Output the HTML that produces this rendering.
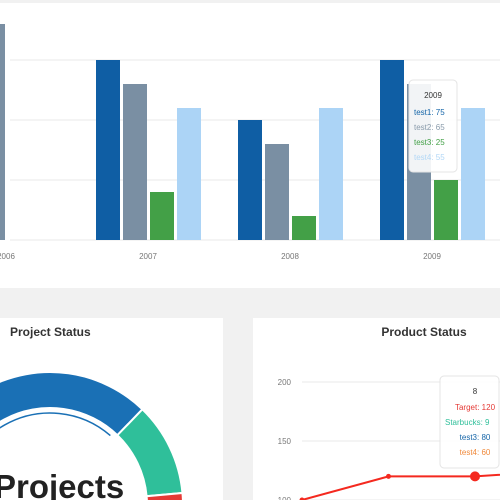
<!DOCTYPE html>
<html><head><meta charset="utf-8"><style>
html,body{margin:0;padding:0;width:500px;height:500px;overflow:hidden;background:#f1f1f1;font-family:"Liberation Sans",sans-serif}
</style></head><body>
<svg width="500" height="500" viewBox="0 0 500 500" xmlns="http://www.w3.org/2000/svg">
<rect x="0" y="3" width="500" height="285" fill="#fff"/>
<g id="bars"></g>
<rect x="0" y="318" width="223" height="182" fill="#fff"/>
<rect x="253" y="318" width="247" height="182" fill="#fff"/>
<text x="10" y="336" font-size="12" font-weight="bold" fill="#333">Project Status</text>
<text x="424" y="336" font-size="12" font-weight="bold" fill="#333" text-anchor="middle">Product Status</text>
<g id="donut"></g>
<text x="-6" y="498" font-size="33" font-weight="bold" fill="#222">Projects</text>
<g id="line"></g>
<g>
<rect x="409" y="80" width="48" height="92" rx="4" fill="#fff" fill-opacity="0.9" stroke="#e4e4e4"/>
<text x="433" y="98" font-size="8" text-anchor="middle" fill="#333">2009</text>
<text x="414" y="115" font-size="8" fill="#1565a8">test1: 75</text>
<text x="414" y="130" font-size="8" fill="#8a9bab">test2: 65</text>
<text x="414" y="145" font-size="8" fill="#43a047">test3: 25</text>
<text x="414" y="160" font-size="8" fill="#b3d8f7">test4: 55</text>
</g>
<g>
<rect x="440" y="376" width="59" height="92" rx="4" fill="#fff" fill-opacity="0.92" stroke="#e4e4e4"/>
<text x="475" y="394" font-size="8" text-anchor="middle" fill="#333">8</text>
<text x="475" y="410" font-size="8" text-anchor="middle" fill="#e53935">Target: 120</text>
<text x="445" y="425" font-size="8" fill="#2fbf9a">Starbucks: 9</text>
<text x="475" y="440" font-size="8" text-anchor="middle" fill="#1565a8">test3: 80</text>
<text x="475" y="455" font-size="8" text-anchor="middle" fill="#f08a3c">test4: 60</text>
</g>
</svg>
<script>
const NS="http://www.w3.org/2000/svg";
const years=["2006","2007","2008","2009"];
const test1=[0,75,50,75];
const test2=[90,65,40,65];
const test3=[0,20,10,25];
const test4=[0,55,55,55];
const barTicks=[0,25,50,75];
const donutLabels=["Blue","Green","Red"];
const donutValues=[60,17,23];
const lineCats=["6","7","8","9"];
const targetVals=[100,120,120,125];
const lineTicks=[100,150,200];

function mk(tag,attrs,parent){const e=document.createElementNS(NS,tag);for(const k in attrs)e.setAttribute(k,attrs[k]);parent.appendChild(e);return e;}

// bar chart
const bg=document.getElementById('bars');
const yB=v=>240-v*2.4;
const xG=i=>6+i*142;
barTicks.forEach(t=>{const l=mk('line',{x1:10,x2:500,y1:yB(t),y2:yB(t),stroke:'#e8e8e8','stroke-width':1},bg);

});
const series=[[test1,'#0f5ea4'],[test2,'#7a8fa3'],[test3,'#43a047'],[test4,'#acd4f6']];
years.forEach((y,i)=>{
 series.forEach((s,j)=>{const v=s[0][i];if(!v)return;
  const x=xG(i)-52+j*27;
  const r=mk('rect',{x:i===0?-5:x,y:yB(v),width:i===0?10:24,height:240-yB(v),fill:s[1]},bg);
  
  });
 const t=mk('text',{x:xG(i),y:259,'font-size':8,fill:'#777','text-anchor':'middle'},bg);t.textContent=y;
 
 
});

// donut
const dg=document.getElementById('donut');
const cx=50,cy=505,R=133,r=97;
const colors=['#1a70b5','#2fbf9a','#e53935'];
const degPer=2.4;
let ang=-100;
const p=(a,rr)=>[cx+rr*Math.sin(a*Math.PI/180),cy-rr*Math.cos(a*Math.PI/180)];
donutValues.forEach((v,i)=>{
 const a0=ang, a1=ang+v*degPer;ang=a1;
 const [x0,y0]=p(a0,R),[x1,y1]=p(a1,R),[x2,y2]=p(a1,r),[x3,y3]=p(a0,r);
 const lg=(a1-a0)>180?1:0;
 const path=mk('path',{d:`M${x0},${y0}A${R},${R} 0 ${lg} 1 ${x1},${y1}L${x2},${y2}A${r},${r} 0 ${lg} 0 ${x3},${y3}Z`,fill:colors[i],stroke:'#fff','stroke-width':2},dg);
 
 
 if(i===0){const [a,b]=p(a0,r-5),[c,d]=p(a1-3,r-5);
  const arc=mk('path',{d:`M${a},${b}A${r-5},${r-5} 0 0 1 ${c},${d}`,fill:'none',stroke:colors[0],'stroke-width':1.5},dg);
  
  }
});

// line chart
const lg2=document.getElementById('line');
const yL=v=>500-(v-100)*59/50;
const xL=i=>302+i*86.5;
lineTicks.forEach(t=>{
 const l=mk('line',{x1:302,x2:500,y1:yL(t),y2:yL(t),stroke:'#e8e8e8'},lg2);
 
 
 const tx=mk('text',{x:291,y:yL(t)+3,'font-size':8,fill:'#777','text-anchor':'end'},lg2);tx.textContent=t;
 
 
});
const pts=targetVals.map((v,i)=>xL(i)+','+yL(v)).join(' ');
const pl=mk('polyline',{points:pts,fill:'none',stroke:'#f4291f','stroke-width':2},lg2);


targetVals.forEach((v,i)=>{
 const c=mk('circle',{cx:xL(i),cy:yL(v),r:i===2?5:2.5,fill:'#f4291f'},lg2);
 
 
});
</script>
</body></html>
